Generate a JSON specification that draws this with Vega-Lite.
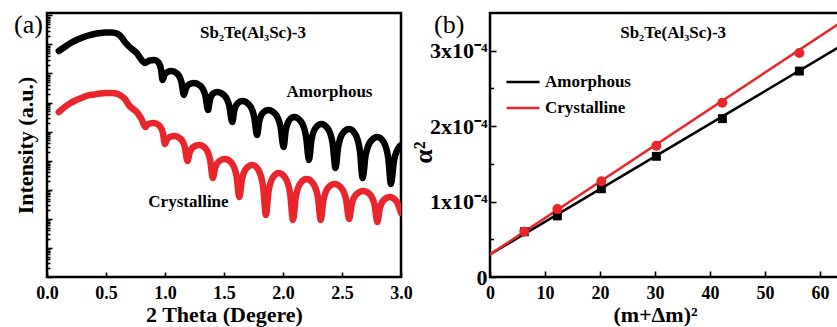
{
  "$schema": "https://vega.github.io/schema/vega-lite/v6.json",
  "background": "white",
  "padding": {"left": 12, "top": 10, "right": 0, "bottom": 0},
  "spacing": 89,
  "bounds": "flush",
  "resolve": {"scale": {"color": "independent"}, "legend": {"color": "independent"}},
  "config": {
    "font": "Liberation Serif",
    "view": {"stroke": "black", "strokeWidth": 2.5},
    "axis": {"labelFont": "Liberation Serif", "titleFont": "Liberation Serif", "labelColor": "black", "titleColor": "black", "tickColor": "black", "domainColor": "black", "labelFontWeight": "bold", "titleFontWeight": "bold", "grid": false, "tickWidth": 1.6, "labelOverlap": false, "labelFlush": false, "domain": false},
    "text": {"font": "Liberation Serif", "fontWeight": "bold", "fontSize": 17, "color": "black"}
  },
  "datasets": {
    "xrr": [
      {"t": 0.10, "I": 5.92e7, "s": "Amorphous"},
      {"t": 0.15, "I": 8.13e7, "s": "Amorphous"},
      {"t": 0.20, "I": 1.11e8, "s": "Amorphous"},
      {"t": 0.25, "I": 1.41e8, "s": "Amorphous"},
      {"t": 0.30, "I": 1.72e8, "s": "Amorphous"},
      {"t": 0.35, "I": 2.02e8, "s": "Amorphous"},
      {"t": 0.40, "I": 2.28e8, "s": "Amorphous"},
      {"t": 0.45, "I": 2.46e8, "s": "Amorphous"},
      {"t": 0.50, "I": 2.56e8, "s": "Amorphous"},
      {"t": 0.55, "I": 2.56e8, "s": "Amorphous"},
      {"t": 0.60, "I": 2.28e8, "s": "Amorphous"},
      {"t": 0.63, "I": 1.79e8, "s": "Amorphous"},
      {"t": 0.66, "I": 1.21e8, "s": "Amorphous"},
      {"t": 0.70, "I": 8.13e7, "s": "Amorphous"},
      {"t": 0.73, "I": 6.41e7, "s": "Amorphous"},
      {"t": 0.76, "I": 5.05e7, "s": "Amorphous"},
      {"t": 0.79, "I": 3.40e7, "s": "Amorphous"},
      {"t": 0.83, "I": 2.29e7, "s": "Amorphous"},
      {"t": 0.87, "I": 2.79e7, "s": "Amorphous"},
      {"t": 0.91, "I": 2.90e7, "s": "Amorphous"},
      {"t": 0.9415, "I": 2.48e7, "s": "Amorphous"},
      {"t": 0.966, "I": 1.42e7, "s": "Amorphous"},
      {"t": 0.98, "I": 5.96e6, "s": "Amorphous"},
      {"t": 0.995, "I": 8.81e6, "s": "Amorphous"},
      {"t": 1.021, "I": 1.13e7, "s": "Amorphous"},
      {"t": 1.055, "I": 1.21e7, "s": "Amorphous"},
      {"t": 1.102, "I": 1.00e7, "s": "Amorphous"},
      {"t": 1.139, "I": 5.16e6, "s": "Amorphous"},
      {"t": 1.16, "I": 1.82e6, "s": "Amorphous"},
      {"t": 1.177, "I": 3.06e6, "s": "Amorphous"},
      {"t": 1.207, "I": 4.27e6, "s": "Amorphous"},
      {"t": 1.245, "I": 4.70e6, "s": "Amorphous"},
      {"t": 1.299, "I": 3.79e6, "s": "Amorphous"},
      {"t": 1.341, "I": 1.79e6, "s": "Amorphous"},
      {"t": 1.365, "I": 5.53e5, "s": "Amorphous"},
      {"t": 1.38, "I": 1.21e6, "s": "Amorphous"},
      {"t": 1.406, "I": 2.00e6, "s": "Amorphous"},
      {"t": 1.44, "I": 2.30e6, "s": "Amorphous"},
      {"t": 1.4985, "I": 1.82e6, "s": "Amorphous"},
      {"t": 1.544, "I": 7.91e5, "s": "Amorphous"},
      {"t": 1.57, "I": 2.14e5, "s": "Amorphous"},
      {"t": 1.587, "I": 5.32e5, "s": "Amorphous"},
      {"t": 1.617, "I": 9.55e5, "s": "Amorphous"},
      {"t": 1.655, "I": 1.13e6, "s": "Amorphous"},
      {"t": 1.711, "I": 8.63e5, "s": "Amorphous"},
      {"t": 1.755, "I": 3.36e5, "s": "Amorphous"},
      {"t": 1.78, "I": 7.64e4, "s": "Amorphous"},
      {"t": 1.799, "I": 2.27e5, "s": "Amorphous"},
      {"t": 1.832, "I": 4.54e5, "s": "Amorphous"},
      {"t": 1.875, "I": 5.53e5, "s": "Amorphous"},
      {"t": 1.9335, "I": 4.13e5, "s": "Amorphous"},
      {"t": 1.979, "I": 1.48e5, "s": "Amorphous"},
      {"t": 2.005, "I": 2.96e4, "s": "Amorphous"},
      {"t": 2.023, "I": 1.09e5, "s": "Amorphous"},
      {"t": 2.0545, "I": 2.51e5, "s": "Amorphous"},
      {"t": 2.095, "I": 3.18e5, "s": "Amorphous"},
      {"t": 2.151, "I": 2.26e5, "s": "Amorphous"},
      {"t": 2.195, "I": 6.87e4, "s": "Amorphous"},
      {"t": 2.22, "I": 1.06e4, "s": "Amorphous"},
      {"t": 2.241, "I": 5.07e4, "s": "Amorphous"},
      {"t": 2.278, "I": 1.37e5, "s": "Amorphous"},
      {"t": 2.325, "I": 1.83e5, "s": "Amorphous"},
      {"t": 2.379, "I": 1.29e5, "s": "Amorphous"},
      {"t": 2.421, "I": 3.81e4, "s": "Amorphous"},
      {"t": 2.445, "I": 5.61e3, "s": "Amorphous"},
      {"t": 2.468, "I": 3.06e4, "s": "Amorphous"},
      {"t": 2.508, "I": 9.03e4, "s": "Amorphous"},
      {"t": 2.56, "I": 1.23e5, "s": "Amorphous"},
      {"t": 2.612, "I": 8.34e4, "s": "Amorphous"},
      {"t": 2.652, "I": 2.14e4, "s": "Amorphous"},
      {"t": 2.675, "I": 2.54e3, "s": "Amorphous"},
      {"t": 2.70, "I": 1.51e4, "s": "Amorphous"},
      {"t": 2.744, "I": 4.72e4, "s": "Amorphous"},
      {"t": 2.80, "I": 6.53e4, "s": "Amorphous"},
      {"t": 2.852, "I": 4.50e4, "s": "Amorphous"},
      {"t": 2.892, "I": 1.22e4, "s": "Amorphous"},
      {"t": 2.915, "I": 1.58e3, "s": "Amorphous"},
      {"t": 2.94, "I": 9.75e3, "s": "Amorphous"},
      {"t": 2.984, "I": 2.96e4, "s": "Amorphous"},
      {"t": 3.0, "I": 3.46e4, "s": "Amorphous"},
      {"t": 0.10, "I": 4.72e5, "s": "Crystalline"},
      {"t": 0.15, "I": 7.01e5, "s": "Crystalline"},
      {"t": 0.20, "I": 9.64e5, "s": "Crystalline"},
      {"t": 0.25, "I": 1.22e6, "s": "Crystalline"},
      {"t": 0.30, "I": 1.49e6, "s": "Crystalline"},
      {"t": 0.35, "I": 1.75e6, "s": "Crystalline"},
      {"t": 0.40, "I": 1.89e6, "s": "Crystalline"},
      {"t": 0.45, "I": 2.05e6, "s": "Crystalline"},
      {"t": 0.50, "I": 2.13e6, "s": "Crystalline"},
      {"t": 0.55, "I": 2.13e6, "s": "Crystalline"},
      {"t": 0.60, "I": 1.96e6, "s": "Crystalline"},
      {"t": 0.63, "I": 1.68e6, "s": "Crystalline"},
      {"t": 0.66, "I": 1.32e6, "s": "Crystalline"},
      {"t": 0.70, "I": 7.60e5, "s": "Crystalline"},
      {"t": 0.73, "I": 6.00e5, "s": "Crystalline"},
      {"t": 0.76, "I": 4.72e5, "s": "Crystalline"},
      {"t": 0.80, "I": 2.72e5, "s": "Crystalline"},
      {"t": 0.835, "I": 1.44e5, "s": "Crystalline"},
      {"t": 0.849, "I": 1.71e5, "s": "Crystalline"},
      {"t": 0.8735, "I": 1.92e5, "s": "Crystalline"},
      {"t": 0.905, "I": 1.98e5, "s": "Crystalline"},
      {"t": 0.948, "I": 1.67e5, "s": "Crystalline"},
      {"t": 0.981, "I": 9.35e4, "s": "Crystalline"},
      {"t": 1.0, "I": 3.75e4, "s": "Crystalline"},
      {"t": 1.016, "I": 5.31e4, "s": "Crystalline"},
      {"t": 1.044, "I": 6.63e4, "s": "Crystalline"},
      {"t": 1.08, "I": 7.06e4, "s": "Crystalline"},
      {"t": 1.1295, "I": 5.79e4, "s": "Crystalline"},
      {"t": 1.168, "I": 2.90e4, "s": "Crystalline"},
      {"t": 1.19, "I": 9.75e3, "s": "Crystalline"},
      {"t": 1.21, "I": 1.96e4, "s": "Crystalline"},
      {"t": 1.245, "I": 3.05e4, "s": "Crystalline"},
      {"t": 1.29, "I": 3.46e4, "s": "Crystalline"},
      {"t": 1.342, "I": 2.67e4, "s": "Crystalline"},
      {"t": 1.382, "I": 1.07e4, "s": "Crystalline"},
      {"t": 1.405, "I": 2.54e3, "s": "Crystalline"},
      {"t": 1.426, "I": 5.81e3, "s": "Crystalline"},
      {"t": 1.463, "I": 9.84e3, "s": "Crystalline"},
      {"t": 1.51, "I": 1.14e4, "s": "Crystalline"},
      {"t": 1.564, "I": 8.46e3, "s": "Crystalline"},
      {"t": 1.606, "I": 2.95e3, "s": "Crystalline"},
      {"t": 1.63, "I": 564, "s": "Crystalline"},
      {"t": 1.652, "I": 2.27e3, "s": "Crystalline"},
      {"t": 1.6905, "I": 5.52e3, "s": "Crystalline"},
      {"t": 1.74, "I": 7.11e3, "s": "Crystalline"},
      {"t": 1.792, "I": 4.79e3, "s": "Crystalline"},
      {"t": 1.832, "I": 1.20e3, "s": "Crystalline"},
      {"t": 1.855, "I": 136, "s": "Crystalline"},
      {"t": 1.877, "I": 845, "s": "Crystalline"},
      {"t": 1.9155, "I": 2.70e3, "s": "Crystalline"},
      {"t": 1.965, "I": 3.78e3, "s": "Crystalline"},
      {"t": 2.019, "I": 2.60e3, "s": "Crystalline"},
      {"t": 2.061, "I": 707, "s": "Crystalline"},
      {"t": 2.085, "I": 91.2, "s": "Crystalline"},
      {"t": 2.108, "I": 544, "s": "Crystalline"},
      {"t": 2.148, "I": 1.69e3, "s": "Crystalline"},
      {"t": 2.20, "I": 2.34e3, "s": "Crystalline"},
      {"t": 2.254, "I": 1.69e3, "s": "Crystalline"},
      {"t": 2.296, "I": 544, "s": "Crystalline"},
      {"t": 2.32, "I": 91.2, "s": "Crystalline"},
      {"t": 2.343, "I": 438, "s": "Crystalline"},
      {"t": 2.383, "I": 1.19e3, "s": "Crystalline"},
      {"t": 2.435, "I": 1.58e3, "s": "Crystalline"},
      {"t": 2.491, "I": 1.20e3, "s": "Crystalline"},
      {"t": 2.535, "I": 454, "s": "Crystalline"},
      {"t": 2.56, "I": 98.8, "s": "Crystalline"},
      {"t": 2.584, "I": 334, "s": "Crystalline"},
      {"t": 2.626, "I": 727, "s": "Crystalline"},
      {"t": 2.68, "I": 907, "s": "Crystalline"},
      {"t": 2.734, "I": 710, "s": "Crystalline"},
      {"t": 2.776, "I": 301, "s": "Crystalline"},
      {"t": 2.80, "I": 77.9, "s": "Crystalline"},
      {"t": 2.821, "I": 231, "s": "Crystalline"},
      {"t": 2.858, "I": 462, "s": "Crystalline"},
      {"t": 2.905, "I": 564, "s": "Crystalline"},
      {"t": 2.96, "I": 411, "s": "Crystalline"},
      {"t": 3.0, "I": 159, "s": "Crystalline"}
    ],
    "labA": [
      {"t": 1.746, "I": 2.46e8, "label": "Sb₂Te(Al₃Sc)-3"},
      {"t": 2.394, "I": 2.3e6, "label": "Amorphous"},
      {"t": 1.199, "I": 380, "label": "Crystalline"}
    ],
    "fit": [
      {"x": 0, "a2": 3.0e-5, "s": "Amorphous"},
      {"x": 64, "a2": 3.071e-4, "s": "Amorphous"},
      {"x": 0, "a2": 3.0e-5, "s": "Crystalline"},
      {"x": 64, "a2": 3.385e-4, "s": "Crystalline"}
    ],
    "pts": [
      {"x": 6.25, "a2": 6.0e-5, "s": "Amorphous"},
      {"x": 12.25, "a2": 8.1e-5, "s": "Amorphous"},
      {"x": 20.25, "a2": 1.17e-4, "s": "Amorphous"},
      {"x": 30.25, "a2": 1.60e-4, "s": "Amorphous"},
      {"x": 42.25, "a2": 2.10e-4, "s": "Amorphous"},
      {"x": 56.25, "a2": 2.73e-4, "s": "Amorphous"},
      {"x": 6.25, "a2": 6.0e-5, "s": "Crystalline"},
      {"x": 12.25, "a2": 9.0e-5, "s": "Crystalline"},
      {"x": 20.25, "a2": 1.27e-4, "s": "Crystalline"},
      {"x": 30.25, "a2": 1.74e-4, "s": "Crystalline"},
      {"x": 42.25, "a2": 2.31e-4, "s": "Crystalline"},
      {"x": 56.25, "a2": 2.97e-4, "s": "Crystalline"}
    ],
    "labB": [
      {"x": 33.3, "a2": 3.23e-4, "label": "Sb₂Te(Al₃Sc)-3"}
    ]
  },
  "hconcat": [
    {
      "width": 354,
      "height": 264,
      "title": {"text": "(a)", "anchor": "start", "frame": "group", "orient": "top", "offset": -46, "dx": -33, "baseline": "alphabetic", "font": "Liberation Serif", "fontSize": 26, "fontWeight": "normal", "color": "black"},
      "layer": [
        {
          "data": {"name": "xrr"},
          "mark": {"type": "line", "strokeWidth": 6.5, "interpolate": "monotone", "clip": true, "strokeCap": "round", "strokeJoin": "round"},
          "encoding": {
            "x": {"field": "t", "type": "quantitative", "scale": {"domain": [0, 3], "nice": false},
              "axis": {"title": "2 Theta (Degere)", "values": [0, 0.25, 0.5, 0.75, 1, 1.25, 1.5, 1.75, 2, 2.25, 2.5, 2.75, 3],
                "labelExpr": "abs(datum.value*2 - round(datum.value*2)) < 0.001 ? format(datum.value, '.1f') : ''",
                "labelFontSize": 18, "labelPadding": 12,
                "tickSize": {"condition": {"test": "abs(datum.value*2 - round(datum.value*2)) < 0.001", "value": -5}, "value": -3},
                "titleFontSize": 22, "titleX": 177, "titleY": 44, "titleBaseline": "alphabetic", "titleAlign": "center"}},
            "y": {"field": "I", "type": "quantitative", "scale": {"type": "log", "domain": [1, 1.2e9], "nice": false},
              "axis": {"title": "Intensity (a.u.)", "labels": false, "tickCount": 50,
                "tickSize": {"condition": {"test": "abs(log(datum.value)/LN10 - round(log(datum.value)/LN10)) < 0.001", "value": -5}, "value": -3},
                "titleFontSize": 22, "titleX": -15, "titleY": 132, "titleAngle": -90, "titleBaseline": "alphabetic", "titleAlign": "center"}},
            "color": {"field": "s", "type": "nominal", "scale": {"domain": ["Amorphous", "Crystalline"], "range": ["#000000", "#e8262b"]}, "legend": null}
          }
        },
        {
          "data": {"name": "labA"},
          "mark": {"type": "text", "align": "center", "baseline": "middle"},
          "encoding": {
            "x": {"field": "t", "type": "quantitative"},
            "y": {"field": "I", "type": "quantitative"},
            "text": {"field": "label"}
          }
        }
      ]
    },
    {
      "width": 352,
      "height": 264,
      "title": {"text": "(b)", "anchor": "start", "frame": "group", "orient": "top", "offset": -46, "dx": -56, "baseline": "alphabetic", "font": "Liberation Serif", "fontSize": 26, "fontWeight": "normal", "color": "black"},
      "layer": [
        {
          "data": {"name": "fit"},
          "mark": {"type": "line", "strokeWidth": 2.5, "clip": true},
          "encoding": {
            "x": {"field": "x", "type": "quantitative", "scale": {"domain": [0, 64], "nice": false},
              "axis": {"title": "(m+Δm)²", "values": [0, 5, 10, 15, 20, 25, 30, 35, 40, 45, 50, 55, 60],
                "labelExpr": "datum.value % 10 == 0 ? format(datum.value, 'd') : ''",
                "labelFontSize": 18, "labelPadding": 13,
                "tickSize": {"condition": {"test": "datum.value % 10 == 0", "value": -6}, "value": -3.5},
                "titleFontSize": 22, "titleX": 165, "titleY": 44, "titleBaseline": "alphabetic", "titleAlign": "center"}},
            "y": {"field": "a2", "type": "quantitative", "scale": {"domain": [0, 0.00035], "nice": false},
              "axis": {"title": "α²", "values": [0, 0.00005, 0.0001, 0.00015, 0.0002, 0.00025, 0.0003],
                "labelExpr": "datum.value < 1e-9 ? '0' : (abs(datum.value*1e4 - round(datum.value*1e4)) < 1e-6 ? format(round(datum.value*1e4), 'd') + 'x10⁻⁴' : '')",
                "labelFontSize": 22, "labelPadding": 9,
                "tickSize": {"condition": {"test": "abs(datum.value*1e4 - round(datum.value*1e4)) < 1e-6", "value": -6}, "value": -3.5},
                "titleFontSize": 26, "titleX": -59, "titleY": 139, "titleAngle": -90, "titleBaseline": "alphabetic", "titleAlign": "center"}},
            "color": {"field": "s", "type": "nominal", "scale": {"domain": ["Amorphous", "Crystalline"], "range": ["#000000", "#e8262b"]},
              "legend": {"orient": "none", "legendX": 15, "legendY": 51, "title": null, "symbolType": "stroke", "symbolSize": 1089, "symbolStrokeWidth": 2.5, "rowPadding": -12, "labelFont": "Liberation Serif", "labelFontSize": 17, "labelFontWeight": "bold", "labelColor": "black", "labelOffset": 4, "padding": 0}}
          }
        },
        {
          "data": {"name": "pts"},
          "transform": [{"filter": "datum.s == 'Amorphous'"}],
          "mark": {"type": "point", "shape": "square", "filled": true, "size": 80, "color": "#000000", "opacity": 1},
          "encoding": {
            "x": {"field": "x", "type": "quantitative"},
            "y": {"field": "a2", "type": "quantitative"}
          }
        },
        {
          "data": {"name": "pts"},
          "transform": [{"filter": "datum.s == 'Crystalline'"}],
          "mark": {"type": "point", "shape": "circle", "filled": true, "size": 100, "color": "#e8262b", "opacity": 1},
          "encoding": {
            "x": {"field": "x", "type": "quantitative"},
            "y": {"field": "a2", "type": "quantitative"}
          }
        },
        {
          "data": {"name": "labB"},
          "mark": {"type": "text", "align": "center", "baseline": "middle"},
          "encoding": {
            "x": {"field": "x", "type": "quantitative"},
            "y": {"field": "a2", "type": "quantitative"},
            "text": {"field": "label"}
          }
        }
      ]
    }
  ]
}
